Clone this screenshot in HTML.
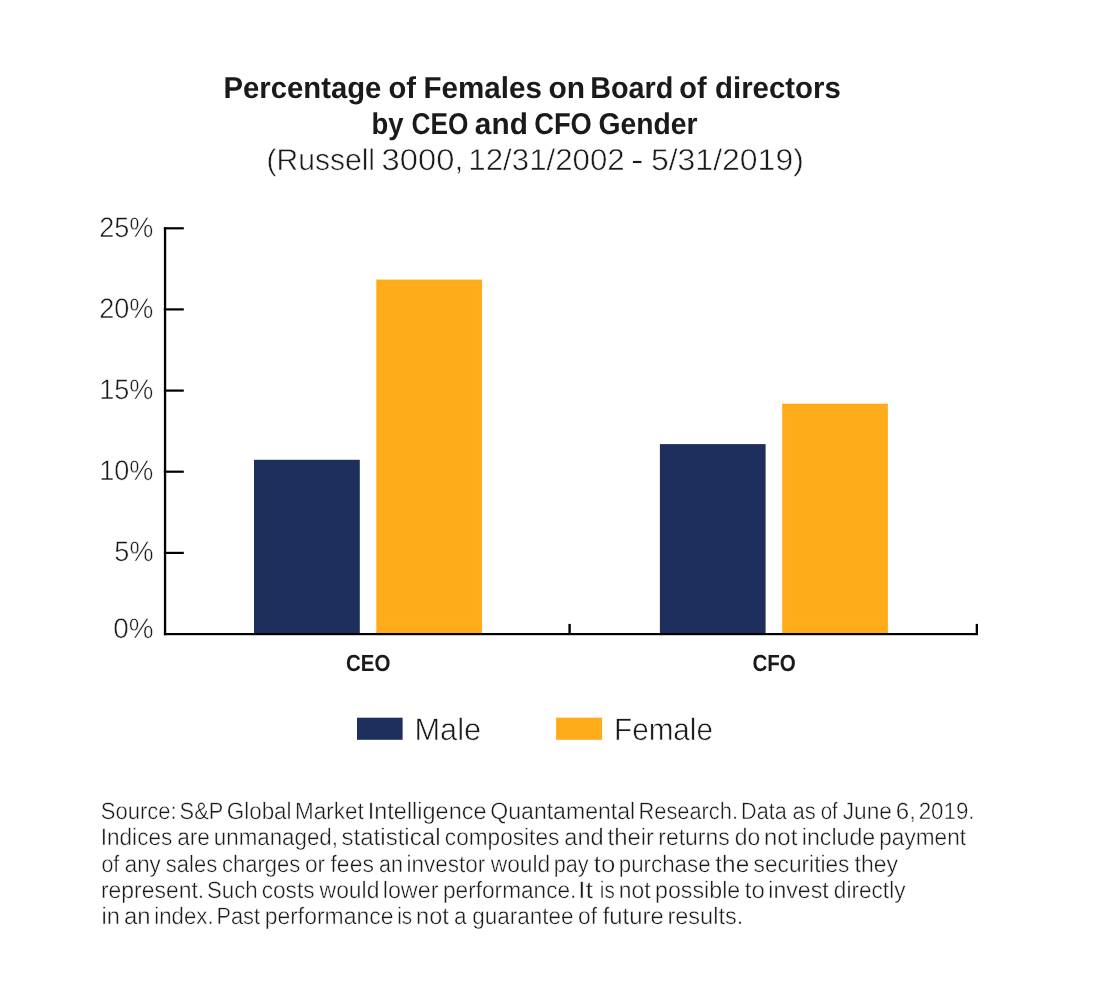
<!DOCTYPE html>
<html lang="en"><head><meta charset="utf-8"><title>Percentage of Females on Board of directors by CEO and CFO Gender</title>
<style>html,body{margin:0;padding:0;background:#fff}svg{display:block}text{font-family:"Liberation Sans",sans-serif;text-rendering:geometricPrecision}</style>
</head><body>
<svg width="1095" height="1007" viewBox="0 0 1095 1007">
<rect width="1095" height="1007" fill="#fff"/>
<rect x="254" y="459.8" width="105.8" height="174" fill="#1e2e5d"/>
<rect x="376.3" y="279.6" width="105.7" height="354.2" fill="#ffab1a"/>
<rect x="659.9" y="444.1" width="105.7" height="189.7" fill="#1e2e5d"/>
<rect x="782.2" y="403.7" width="105.7" height="230.1" fill="#ffab1a"/>
<rect x="357" y="717.7" width="45.6" height="22.1" fill="#1e2e5d"/>
<rect x="556.1" y="717.7" width="46" height="22.1" fill="#ffab1a"/>
<g fill="#000">
<rect x="163.9" y="227.2" width="2.3" height="408"/>
<rect x="163.9" y="633" width="814.1" height="2.2"/>
<rect x="568.4" y="623.9" width="2.4" height="10"/>
<rect x="975.7" y="623.9" width="2.3" height="10"/>
<rect x="163.9" y="227.2" width="19.9" height="2.2"/>
<rect x="163.9" y="308.3" width="19.9" height="2.2"/>
<rect x="163.9" y="389.5" width="19.9" height="2.2"/>
<rect x="163.9" y="470.6" width="19.9" height="2.2"/>
<rect x="163.9" y="551.8" width="19.9" height="2.2"/>
</g>
<text y="98.00" font-size="30.2" font-weight="700" fill="#1a1a1a"><tspan x="223.46" textLength="157.91" lengthAdjust="spacingAndGlyphs">Percentage</tspan> <tspan x="388.53" textLength="27.51" lengthAdjust="spacingAndGlyphs">of</tspan> <tspan x="423.44" textLength="118.42" lengthAdjust="spacingAndGlyphs">Females</tspan> <tspan x="548.41" textLength="36.64" lengthAdjust="spacingAndGlyphs">on</tspan> <tspan x="590.19" textLength="83.19" lengthAdjust="spacingAndGlyphs">Board</tspan> <tspan x="679.34" textLength="27.31" lengthAdjust="spacingAndGlyphs">of</tspan> <tspan x="715.03" textLength="125.82" lengthAdjust="spacingAndGlyphs">directors</tspan></text>
<text y="134.00" font-size="30.2" font-weight="700" fill="#1a1a1a"><tspan x="371.58" textLength="32.04" lengthAdjust="spacingAndGlyphs">by</tspan> <tspan x="411.43" textLength="56.88" lengthAdjust="spacingAndGlyphs">CEO</tspan> <tspan x="474.87" textLength="53.01" lengthAdjust="spacingAndGlyphs">and</tspan> <tspan x="534.20" textLength="57.61" lengthAdjust="spacingAndGlyphs">CFO</tspan> <tspan x="598.56" textLength="99.01" lengthAdjust="spacingAndGlyphs">Gender</tspan></text>
<text y="170.00" font-size="30.2" font-weight="400" fill="#1a1a1a" stroke="#fff" stroke-width="0.54"><tspan x="266.46" textLength="108.58" lengthAdjust="spacingAndGlyphs">(Russell</tspan> <tspan x="381.60" textLength="81.87" lengthAdjust="spacingAndGlyphs">3000,</tspan> <tspan x="468.38" textLength="156.28" lengthAdjust="spacingAndGlyphs">12/31/2002</tspan> <tspan x="631.02" textLength="12.56" lengthAdjust="spacingAndGlyphs">-</tspan> <tspan x="650.91" textLength="152.92" lengthAdjust="spacingAndGlyphs">5/31/2019)</tspan></text>
<text y="819.00" font-size="23.7" font-weight="400" fill="#1a1a1a" stroke="#fff" stroke-width="0.43"><tspan x="100.69" textLength="76.04" lengthAdjust="spacingAndGlyphs">Source:</tspan> <tspan x="179.62" textLength="43.23" lengthAdjust="spacingAndGlyphs">S&amp;P</tspan> <tspan x="226.76" textLength="64.81" lengthAdjust="spacingAndGlyphs">Global</tspan> <tspan x="295.04" textLength="68.83" lengthAdjust="spacingAndGlyphs">Market</tspan> <tspan x="367.75" textLength="118.74" lengthAdjust="spacingAndGlyphs">Intelligence</tspan> <tspan x="490.28" textLength="144.96" lengthAdjust="spacingAndGlyphs">Quantamental</tspan> <tspan x="638.50" textLength="99.48" lengthAdjust="spacingAndGlyphs">Research.</tspan> <tspan x="741.12" textLength="45.59" lengthAdjust="spacingAndGlyphs">Data</tspan> <tspan x="792.47" textLength="23.26" lengthAdjust="spacingAndGlyphs">as</tspan> <tspan x="820.74" textLength="17.08" lengthAdjust="spacingAndGlyphs">of</tspan> <tspan x="842.73" textLength="49.21" lengthAdjust="spacingAndGlyphs">June</tspan> <tspan x="895.86" textLength="20.07" lengthAdjust="spacingAndGlyphs">6,</tspan> <tspan x="918.68" textLength="55.88" lengthAdjust="spacingAndGlyphs">2019.</tspan></text>
<text y="845.00" font-size="23.7" font-weight="400" fill="#1a1a1a" stroke="#fff" stroke-width="0.43"><tspan x="100.74" textLength="71.54" lengthAdjust="spacingAndGlyphs">Indices</tspan> <tspan x="177.14" textLength="32.79" lengthAdjust="spacingAndGlyphs">are</tspan> <tspan x="213.84" textLength="124.18" lengthAdjust="spacingAndGlyphs">unmanaged,</tspan> <tspan x="341.47" textLength="99.04" lengthAdjust="spacingAndGlyphs">statistical</tspan> <tspan x="444.84" textLength="114.50" lengthAdjust="spacingAndGlyphs">composites</tspan> <tspan x="564.31" textLength="39.33" lengthAdjust="spacingAndGlyphs">and</tspan> <tspan x="607.55" textLength="46.44" lengthAdjust="spacingAndGlyphs">their</tspan> <tspan x="658.25" textLength="71.53" lengthAdjust="spacingAndGlyphs">returns</tspan> <tspan x="734.83" textLength="25.46" lengthAdjust="spacingAndGlyphs">do</tspan> <tspan x="764.06" textLength="33.32" lengthAdjust="spacingAndGlyphs">not</tspan> <tspan x="801.74" textLength="73.54" lengthAdjust="spacingAndGlyphs">include</tspan> <tspan x="879.29" textLength="86.72" lengthAdjust="spacingAndGlyphs">payment</tspan></text>
<text y="872.00" font-size="23.7" font-weight="400" fill="#1a1a1a" stroke="#fff" stroke-width="0.43"><tspan x="101.39" textLength="17.91" lengthAdjust="spacingAndGlyphs">of</tspan> <tspan x="124.76" textLength="35.93" lengthAdjust="spacingAndGlyphs">any</tspan> <tspan x="165.75" textLength="51.43" lengthAdjust="spacingAndGlyphs">sales</tspan> <tspan x="221.97" textLength="78.28" lengthAdjust="spacingAndGlyphs">charges</tspan> <tspan x="305.05" textLength="20.07" lengthAdjust="spacingAndGlyphs">or</tspan> <tspan x="330.48" textLength="43.44" lengthAdjust="spacingAndGlyphs">fees</tspan> <tspan x="379.00" textLength="23.80" lengthAdjust="spacingAndGlyphs">an</tspan> <tspan x="406.60" textLength="78.63" lengthAdjust="spacingAndGlyphs">investor</tspan> <tspan x="490.71" textLength="59.61" lengthAdjust="spacingAndGlyphs">would</tspan> <tspan x="553.76" textLength="34.90" lengthAdjust="spacingAndGlyphs">pay</tspan> <tspan x="593.79" textLength="21.56" lengthAdjust="spacingAndGlyphs">to</tspan> <tspan x="618.81" textLength="91.78" lengthAdjust="spacingAndGlyphs">purchase</tspan> <tspan x="715.33" textLength="34.01" lengthAdjust="spacingAndGlyphs">the</tspan> <tspan x="753.62" textLength="95.86" lengthAdjust="spacingAndGlyphs">securities</tspan> <tspan x="854.58" textLength="43.47" lengthAdjust="spacingAndGlyphs">they</tspan></text>
<text y="898.00" font-size="23.7" font-weight="400" fill="#1a1a1a" stroke="#fff" stroke-width="0.43"><tspan x="100.95" textLength="103.28" lengthAdjust="spacingAndGlyphs">represent.</tspan> <tspan x="206.98" textLength="50.68" lengthAdjust="spacingAndGlyphs">Such</tspan> <tspan x="261.75" textLength="52.74" lengthAdjust="spacingAndGlyphs">costs</tspan> <tspan x="319.60" textLength="59.82" lengthAdjust="spacingAndGlyphs">would</tspan> <tspan x="382.73" textLength="55.71" lengthAdjust="spacingAndGlyphs">lower</tspan> <tspan x="442.99" textLength="133.43" lengthAdjust="spacingAndGlyphs">performance.</tspan> <tspan x="577.93" textLength="15.18" lengthAdjust="spacingAndGlyphs">It</tspan> <tspan x="599.84" textLength="14.91" lengthAdjust="spacingAndGlyphs">is</tspan> <tspan x="618.85" textLength="31.81" lengthAdjust="spacingAndGlyphs">not</tspan> <tspan x="655.04" textLength="85.20" lengthAdjust="spacingAndGlyphs">possible</tspan> <tspan x="744.75" textLength="19.98" lengthAdjust="spacingAndGlyphs">to</tspan> <tspan x="768.25" textLength="60.36" lengthAdjust="spacingAndGlyphs">invest</tspan> <tspan x="833.85" textLength="71.62" lengthAdjust="spacingAndGlyphs">directly</tspan></text>
<text y="924.00" font-size="23.7" font-weight="400" fill="#1a1a1a" stroke="#fff" stroke-width="0.43"><tspan x="101.41" textLength="18.39" lengthAdjust="spacingAndGlyphs">in</tspan> <tspan x="124.09" textLength="26.54" lengthAdjust="spacingAndGlyphs">an</tspan> <tspan x="154.32" textLength="59.24" lengthAdjust="spacingAndGlyphs">index.</tspan> <tspan x="216.51" textLength="43.45" lengthAdjust="spacingAndGlyphs">Past</tspan> <tspan x="264.66" textLength="128.83" lengthAdjust="spacingAndGlyphs">performance</tspan> <tspan x="397.14" textLength="14.91" lengthAdjust="spacingAndGlyphs">is</tspan> <tspan x="416.10" textLength="32.67" lengthAdjust="spacingAndGlyphs">not</tspan> <tspan x="453.94" textLength="12.61" lengthAdjust="spacingAndGlyphs">a</tspan> <tspan x="472.25" textLength="101.36" lengthAdjust="spacingAndGlyphs">guarantee</tspan> <tspan x="578.04" textLength="18.99" lengthAdjust="spacingAndGlyphs">of</tspan> <tspan x="602.66" textLength="61.13" lengthAdjust="spacingAndGlyphs">future</tspan> <tspan x="667.41" textLength="75.84" lengthAdjust="spacingAndGlyphs">results.</tspan></text>
<text transform="translate(99.21 237) scale(0.9595 1)" font-size="28.2" font-weight="400" fill="#1a1a1a" stroke="#fff" stroke-width="0.51">25%</text>
<text transform="translate(99.21 318) scale(0.9595 1)" font-size="28.2" font-weight="400" fill="#1a1a1a" stroke="#fff" stroke-width="0.51">20%</text>
<text transform="translate(99.21 399) scale(0.9595 1)" font-size="28.2" font-weight="400" fill="#1a1a1a" stroke="#fff" stroke-width="0.51">15%</text>
<text transform="translate(99.21 480) scale(0.9595 1)" font-size="28.2" font-weight="400" fill="#1a1a1a" stroke="#fff" stroke-width="0.51">10%</text>
<text transform="translate(114.36 561) scale(0.9595 1)" font-size="28.2" font-weight="400" fill="#1a1a1a" stroke="#fff" stroke-width="0.51">5%</text>
<text transform="translate(113.20 638) scale(0.9889 1)" font-size="28.2" font-weight="400" fill="#1a1a1a" stroke="#fff" stroke-width="0.51">0%</text>
<text transform="translate(346.02 671) scale(0.8793 1)" font-size="23.3" font-weight="700" fill="#1a1a1a">CEO</text>
<text transform="translate(752.42 671) scale(0.8835 1)" font-size="23.3" font-weight="700" fill="#1a1a1a">CFO</text>
<text transform="translate(414.40 740) scale(0.9934 1)" font-size="31" font-weight="400" fill="#1a1a1a" stroke="#fff" stroke-width="0.56">Male</text>
<text transform="translate(614.00 740) scale(0.9575 1)" font-size="31" font-weight="400" fill="#1a1a1a" stroke="#fff" stroke-width="0.56">Female</text>
</svg>
</body></html>
